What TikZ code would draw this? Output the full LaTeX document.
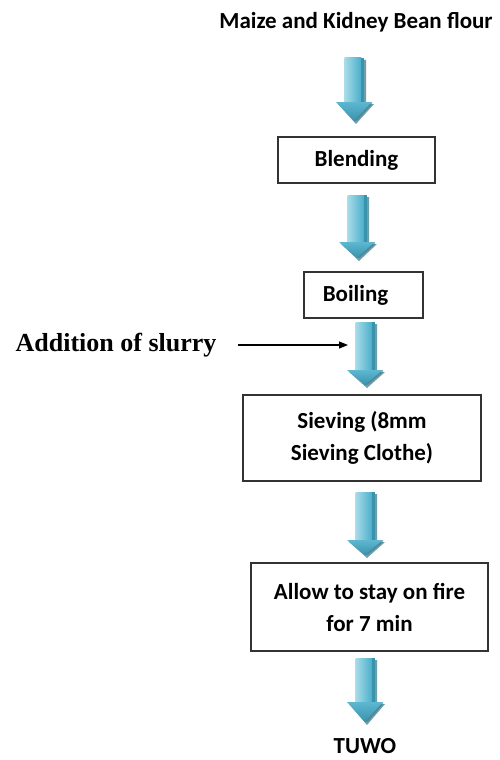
\documentclass[tikz,border=0pt]{standalone}
\usepackage{fontspec}
\setmainfont{Carlito}
\newfontfamily\timesbf{Liberation Serif}
\usetikzlibrary{arrows.meta,calc}
\definecolor{arrlight}{HTML}{A8DCE9}
\definecolor{arrmid}{HTML}{4BAECA}
\definecolor{arrside}{HTML}{3A93AC}
\definecolor{arrdark}{HTML}{2F7487}
\definecolor{boxline}{HTML}{333333}
\newcommand{\blockarr}[4]{%
  % #1 centre x, #2 top y, #3 head start y, #4 tip y
  \fill[arrdark!70] ({#1-7},{#2+2}) -- ({#1+12},{#2+2}) -- ({#1+12},{#3+2}) -- ({#1+20},{#3+2})
     -- ({#1+2},{#4+3}) -- ({#1-16},{#3+2}) -- ({#1-7},{#3+2}) -- cycle;
  \shade[left color=arrlight, right color=arrmid]
     ({#1-9.5},#2) rectangle ({#1+7},#3);
  \fill[arrside] ({#1+7},#2) rectangle ({#1+9.5},#3);
  \shade[top color=arrmid!80!arrlight, bottom color=arrside]
     ({#1-18},#3) -- ({#1+18},#3) -- (#1,#4) -- cycle;
  \fill[arrdark, opacity=0.5] ({#1+18},#3) -- (#1,#4) -- ({#1+3},{#4-0.5}) -- ({#1+18},{#3+2}) -- cycle;
}
\tikzset{
  stepbox/.style={draw=boxline, line width=1.3pt, fill=white, align=center,
    font=\fontsize{23}{32}\selectfont\bfseries, inner sep=0pt},
  plaintext/.style={align=center, font=\fontsize{23}{28}\selectfont\bfseries, inner sep=0pt},
}
\begin{document}
\begin{tikzpicture}[x=1pt,y=-1pt]
\useasboundingbox (0,0) rectangle (500,760);
\fill[white] (0,0) rectangle (500,760);

\node[plaintext] (title) at (356,22) {Maize and Kidney Bean flour};
\node[stepbox, minimum width=157pt, minimum height=46pt] (blend) at (356.5,160) {Blending};
\node[stepbox, minimum width=119pt, minimum height=46pt] (boil) at (363.5,295) {\hspace*{-16pt}Boiling};
\node[stepbox, minimum width=238pt, minimum height=86pt] (sieve) at (362,438) {Sieving (8mm\\Sieving Clothe)};
\node[stepbox, minimum width=237pt, minimum height=88pt] (allow) at (369.5,607) {Allow to stay on fire\\for 7 min};
\node[plaintext, text depth=0pt, anchor=base] (tuwo) at (365,753) {TUWO};
\node[inner sep=0pt, font=\fontsize{26}{30}\selectfont\timesbf\bfseries] (slurry) at (116,345) {Addition of slurry};

\blockarr{354}{58}{102}{121}
\blockarr{357}{195}{242}{258}
\blockarr{365}{322}{370}{385}
\blockarr{365}{492}{540}{555}
\blockarr{365}{658}{702}{722}

\coordinate (slurryend) at (348,345);
\draw[line width=1.1pt, -{Triangle[length=9pt,width=7pt]}] ($(slurry.east)+(21,0)$) -- (slurryend);
\end{tikzpicture}
\end{document}
